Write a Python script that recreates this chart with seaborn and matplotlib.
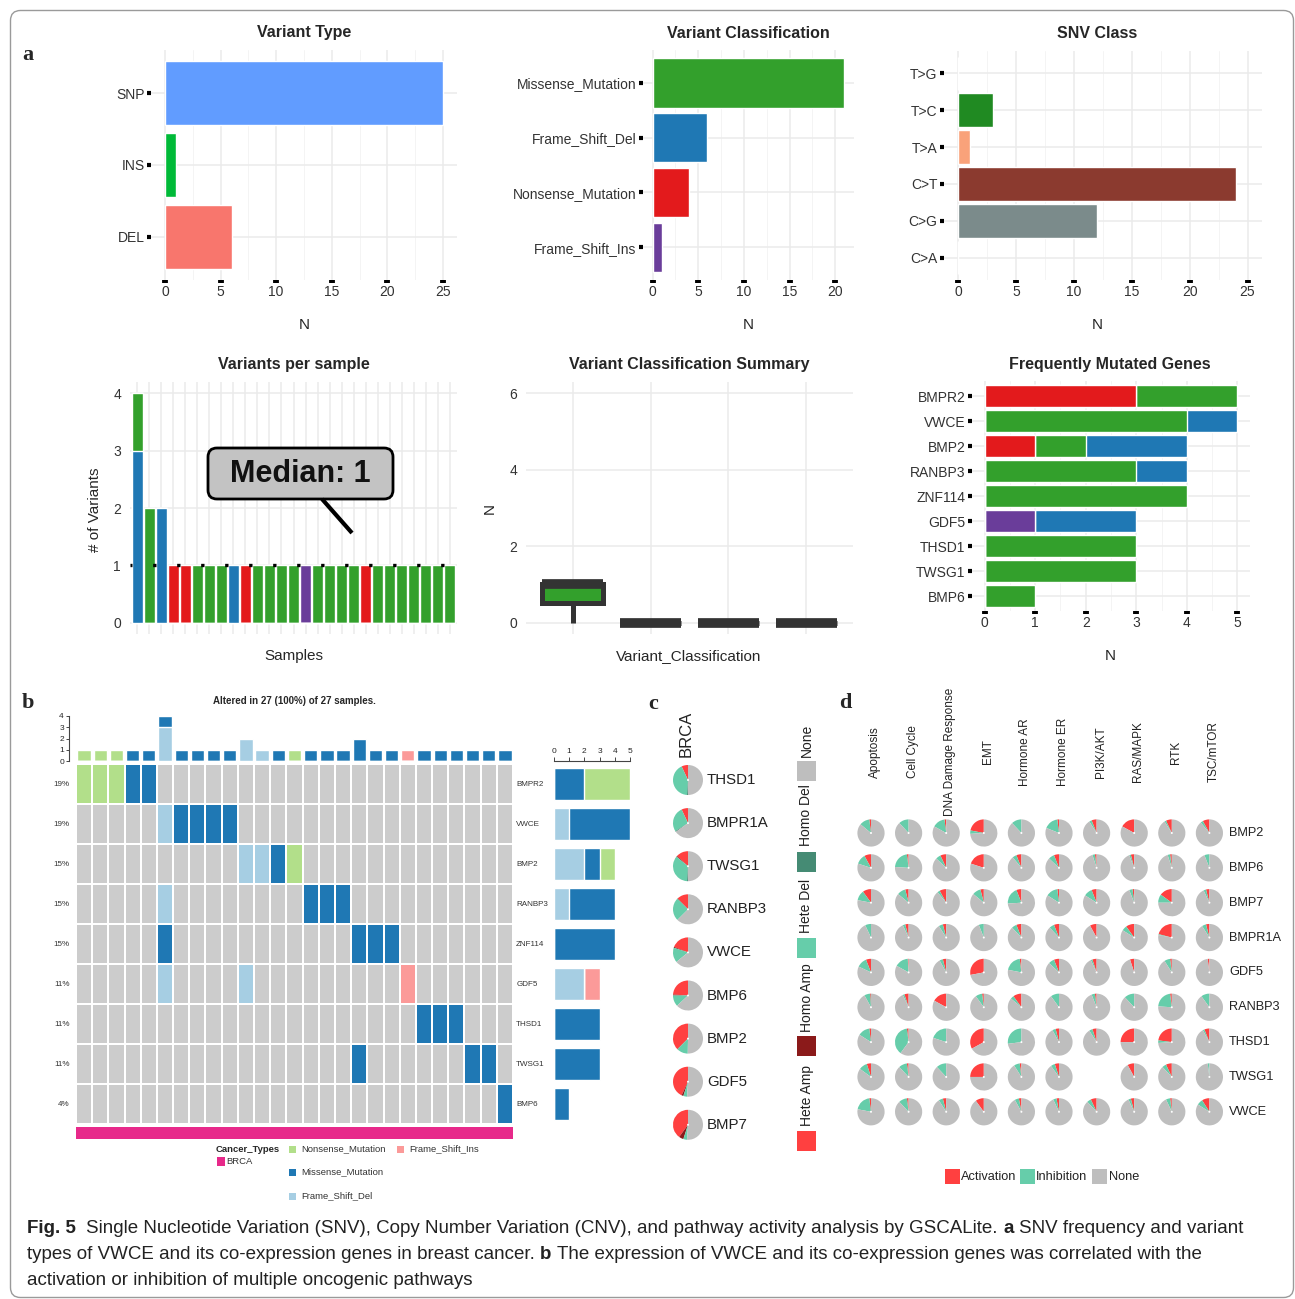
import numpy as np
import pandas as pd
import matplotlib
matplotlib.use("Agg")
import matplotlib.pyplot as plt
from matplotlib import font_manager
from matplotlib.colors import ListedColormap
from matplotlib.patches import Wedge, Circle, Rectangle, FancyBboxPatch
from matplotlib.lines import Line2D
import seaborn as sns

# ---------------- data ----------------
vt_labels = ["SNP", "INS", "DEL"]
vt_counts = [25, 1, 6]
vt_colors = ["#619CFF", "#00BA38", "#F8766D"]

vc_labels = ["Missense_Mutation", "Frame_Shift_Del", "Nonsense_Mutation", "Frame_Shift_Ins"]
vc_counts = [21, 6, 4, 1]
vc_colors = ["#33A02C", "#1F78B4", "#E31A1C", "#6A3D9A"]

snv_labels = ["T>G", "T>C", "T>A", "C>T", "C>G", "C>A"]
snv_counts = [0, 3, 1, 24, 12, 0]
snv_colors = ["#4B6C8B", "#208A22", "#F9A27A", "#8B3A2F", "#7B8B8B", "#C9A33A"]

# variants per sample (27 samples, sorted by burden)
sample_fs_del   = [3, 0, 2, 0, 0, 0, 0, 0, 1, 0, 0, 0, 0, 0, 0, 0, 0, 0, 0, 0, 0, 0, 0, 0, 0, 0, 0]
sample_missense = [1, 2, 0, 0, 0, 1, 1, 1, 0, 0, 1, 1, 1, 1, 0, 1, 1, 1, 1, 0, 1, 1, 1, 1, 1, 1, 1]
sample_nonsense = [0, 0, 0, 1, 1, 0, 0, 0, 0, 1, 0, 0, 0, 0, 0, 0, 0, 0, 0, 1, 0, 0, 0, 0, 0, 0, 0]
sample_fs_ins   = [0, 0, 0, 0, 0, 0, 0, 0, 0, 0, 0, 0, 0, 0, 1, 0, 0, 0, 0, 0, 0, 0, 0, 0, 0, 0, 0]

# frequently mutated genes
fm_genes = ["BMPR2", "VWCE", "BMP2", "RANBP3", "ZNF114", "GDF5", "THSD1", "TWSG1", "BMP6"]
fm_nonsense = [3, 0, 1, 0, 0, 0, 0, 0, 0]
fm_fs_ins   = [0, 0, 0, 0, 0, 1, 0, 0, 0]
fm_missense = [2, 4, 1, 3, 4, 0, 3, 3, 1]
fm_fs_del   = [0, 1, 2, 1, 0, 2, 0, 0, 0]

# oncoplot: sample column (1-based) -> variant code
onco_genes = ["BMPR2", "VWCE", "BMP2", "RANBP3", "ZNF114", "GDF5", "THSD1", "TWSG1", "BMP6"]
onco_hits = {
    "BMPR2":  {1: "N", 2: "N", 3: "N", 4: "M", 5: "M"},
    "VWCE":   {6: "D", 7: "M", 8: "M", 9: "M", 10: "M"},
    "BMP2":   {11: "D", 12: "D", 13: "M", 14: "N"},
    "RANBP3": {6: "D", 15: "M", 16: "M", 17: "M"},
    "ZNF114": {6: "M", 18: "M", 19: "M", 20: "M"},
    "GDF5":   {6: "D", 11: "D", 21: "I"},
    "THSD1":  {22: "M", 23: "M", 24: "M"},
    "TWSG1":  {18: "M", 25: "M", 26: "M"},
    "BMP6":   {27: "M"},
}
onco_cancer = ["BRCA"] * 27

# CNV (percent of samples)
cnv_genes    = ["THSD1", "BMPR1A", "TWSG1", "RANBP3", "VWCE", "BMP6", "BMP2", "GDF5", "BMP7"]
cnv_hete_amp = [7, 7, 13, 12, 19, 24, 37, 43, 40]
cnv_homo_amp = [0, 0, 1, 0.5, 1, 1, 0.5, 2, 5]
cnv_hete_del = [42, 27, 35, 25, 16, 12, 12, 4, 4]
cnv_homo_del = [1, 1, 1, 0, 0, 0, 0, 0, 0]
cnv_none     = [50, 65, 50, 62.5, 64, 63, 50, 51, 51]

# pathway activity (percent activation / inhibition)
pw_names = ["Apoptosis", "Cell Cycle", "DNA Damage Response", "EMT", "Hormone AR",
            "Hormone ER", "PI3K/AKT", "RAS/MAPK", "RTK", "TSC/mTOR"]
pw_genes = ["BMP2", "BMP6", "BMP7", "BMPR1A", "GDF5", "RANBP3", "THSD1", "TWSG1", "VWCE"]
pw_act = [
    [2, 0, 2, 22, 0, 2, 6, 17, 7, 8],
    [8, 2, 7, 20, 6, 6, 2, 4, 2, 0],
    [10, 4, 8, 4, 6, 2, 6, 2, 15, 4],
    [0, 4, 4, 0, 6, 6, 8, 10, 21, 4],
    [6, 1, 4, 28, 2, 6, 5, 5, 2, 2],
    [1, 5, 17, 2, 10, 0, 2, 0, 2, 0],
    [2, 2, 0, 33, 0, 4, 5, 25, 23, 6],
    [5, 2, 0, 25, 2, 5, np.nan, 8, 7, 0],
    [2, 2, 4, 10, 3, 3, 7, 4, 2, 9],
]
pw_inh = [
    [12, 12, 15, 4, 12, 17, 3, 0, 2, 3],
    [12, 22, 6, 0, 5, 7, 3, 2, 3, 6],
    [12, 10, 3, 10, 20, 14, 10, 4, 10, 3],
    [7, 3, 5, 6, 6, 6, 0, 6, 1, 5],
    [12, 16, 4, 0, 20, 7, 2, 0, 7, 0],
    [7, 2, 0, 8, 4, 10, 4, 12, 22, 10],
    [14, 38, 20, 0, 27, 4, 4, 0, 3, 2],
    [10, 10, 12, 0, 7, 5, np.nan, 0, 5, 2],
    [20, 10, 5, 0, 5, 4, 5, 3, 5, 7],
]

# ---------------- style ----------------
W, H = 1295, 1299
sns.set_theme(style="white")
plt.rcParams["font.family"] = ["Liberation Sans", "DejaVu Sans"]
plt.rcParams["axes.unicode_minus"] = False

fig = plt.figure(figsize=(W / 100, H / 100), dpi=100)
fig.patch.set_facecolor("white")

GRID = "#EBEBEB"
TICKTXT = "#333333"


def add_ax(x0, y0, x1, y1, **kw):
    return fig.add_axes([x0 / W, 1 - y1 / H, (x1 - x0) / W, (y1 - y0) / H], **kw)


def ftext(x, y, s, **kw):
    kw.setdefault("ha", "center")
    kw.setdefault("va", "center")
    return fig.text(x / W, 1 - y / H, s, **kw)


def gg_bar_axes(ax, xticks, xlim, n_cat):
    for sp in ax.spines.values():
        sp.set_visible(False)
    ax.set_xlim(*xlim)
    ax.set_ylim(n_cat - 0.4, -0.6)
    ax.set_xticks(xticks)
    minor = [(a + b) / 2 for a, b in zip(xticks[:-1], xticks[1:])]
    ax.set_xticks(minor, minor=True)
    ax.grid(True, which="major", color=GRID, lw=1.1)
    ax.grid(True, which="minor", axis="x", color="#F4F4F4", lw=0.7)
    ax.set_axisbelow(True)
    ax.tick_params(axis="x", which="major", bottom=True, length=2.2, width=4.2,
                   color="black", labelsize=10, labelcolor=TICKTXT, pad=1.5)
    ax.tick_params(axis="x", which="minor", bottom=False, length=0)
    ax.tick_params(axis="y", left=True, length=2.6, width=3.0, color="black",
                   labelsize=10, labelcolor=TICKTXT, pad=2)
    ax.set_xlabel("")
    ax.set_ylabel("")


def simple_bar(ax, labels, counts, colors):
    df = pd.DataFrame({"lab": labels, "n": counts})
    sns.barplot(data=df, x="n", y="lab", hue="lab", order=labels, hue_order=labels,
                palette=dict(zip(labels, colors)), orient="h", width=0.9,
                saturation=1, legend=False, errorbar=None, ax=ax)


# ---------------- panel a, row 1 ----------------
ax = add_ax(151, 50, 457, 280)
simple_bar(ax, vt_labels, vt_counts, vt_colors)
gg_bar_axes(ax, [0, 5, 10, 15, 20, 25], (-1.25, 26.25), len(vt_labels))
ftext(304, 33, "Variant Type", fontsize=11.5, fontweight="bold")
ftext(304, 325, "N", fontsize=11)

ax = add_ax(643, 50, 854, 280)
simple_bar(ax, vc_labels, vc_counts, vc_colors)
gg_bar_axes(ax, [0, 5, 10, 15, 20], (-1.05, 22.05), len(vc_labels))
ftext(748, 33, "Variant Classification", fontsize=11.5, fontweight="bold")
ftext(748, 325, "N", fontsize=11)

ax = add_ax(944, 51, 1262, 280)
simple_bar(ax, snv_labels, snv_counts, snv_colors)
gg_bar_axes(ax, [0, 5, 10, 15, 20, 25], (-1.25, 26.25), len(snv_labels))
ftext(1097, 33, "SNV Class", fontsize=11.5, fontweight="bold")
ftext(1097, 325, "N", fontsize=11)

# ---------------- panel a, row 2 ----------------
# variants per sample (stacked)
ax = add_ax(130, 382, 457, 634)
samples = [f"S{i + 1}" for i in range(len(sample_missense))]
ps_stack = [(sample_fs_del, vc_colors[1]), (sample_missense, vc_colors[0]),
            (sample_nonsense, vc_colors[2]), (sample_fs_ins, vc_colors[3])]
ps_cum = np.cumsum([s for s, _ in ps_stack], axis=0)
for lvl in range(len(ps_stack) - 1, -1, -1):
    sns.barplot(x=samples, y=ps_cum[lvl], order=samples, color=ps_stack[lvl][1],
                width=0.92, saturation=1, errorbar=None, ax=ax)
for sp in ax.spines.values():
    sp.set_visible(False)
ax.set_xlim(-0.6, len(samples) - 0.4)
ax.set_ylim(-0.2, 4.2)
ax.set_xticks(range(len(samples)))
ax.set_xticklabels([])
ax.set_yticks([0, 1, 2, 3, 4])
ax.grid(True, color=GRID, lw=1.1)
ax.set_axisbelow(True)
ax.tick_params(axis="both", length=0, labelsize=10, labelcolor=TICKTXT, pad=6.5)
ax.set_xlabel("")
ax.set_ylabel("")
totals = ps_cum[-1]
med = float(np.median(totals))
ax.axhline(med, color="black", lw=2.4, linestyle=(0.4, (1, 6.2)), zorder=5)
ftext(294, 364, "Variants per sample", fontsize=11.5, fontweight="bold")
ftext(294, 656, "Samples", fontsize=11)
ftext(95, 510, "# of Variants", fontsize=11, rotation=90)

# variant classification summary (box plot per sample)
ax = add_ax(526, 382, 853, 634)
rows = []
for name, arr in zip(vc_labels, [sample_missense, sample_fs_del, sample_nonsense, sample_fs_ins]):
    for v in arr:
        rows.append((name, v))
dfb = pd.DataFrame(rows, columns=["cls", "n"])
sns.boxplot(data=dfb, x="cls", y="n", order=vc_labels, hue="cls", hue_order=vc_labels,
            palette=dict(zip(vc_labels, vc_colors)), width=0.78, linewidth=3.6,
            linecolor="#333333", showfliers=False, showcaps=False, saturation=1,
            medianprops=dict(linewidth=7.0, color="#333333", solid_capstyle="butt"),
            legend=False, ax=ax)
for sp in ax.spines.values():
    sp.set_visible(False)
ax.set_ylim(-0.3, 6.3)
ax.set_xlim(-0.6, len(vc_labels) - 0.4)
ax.set_yticks([0, 2, 4, 6])
ax.set_xticks(range(len(vc_labels)))
ax.set_xticklabels([])
ax.grid(True, color=GRID, lw=1.1)
ax.set_axisbelow(True)
ax.tick_params(axis="both", length=0, labelsize=10, labelcolor=TICKTXT, pad=6.5)
ax.set_xlabel("")
ax.set_ylabel("")
ftext(689, 364, "Variant Classification Summary", fontsize=11.5, fontweight="bold")
ftext(689, 656, "Variant_Classification", fontsize=11)
ftext(490, 508, "N", fontsize=11, rotation=90)

# frequently mutated genes (stacked)
ax = add_ax(972, 381, 1250, 611)
fm_stack = [(fm_nonsense, vc_colors[2]), (fm_fs_ins, vc_colors[3]),
            (fm_missense, vc_colors[0]), (fm_fs_del, vc_colors[1])]
fm_cum = np.cumsum([s for s, _ in fm_stack], axis=0)
for lvl in range(len(fm_stack) - 1, -1, -1):
    sns.barplot(x=fm_cum[lvl], y=fm_genes, order=fm_genes, orient="h",
                color=fm_stack[lvl][1], width=0.87, saturation=1, errorbar=None, ax=ax)
gg_bar_axes(ax, [0, 1, 2, 3, 4, 5], (-0.25, 5.25), len(fm_genes))
ftext(1110, 364, "Frequently Mutated Genes", fontsize=11.5, fontweight="bold")
ftext(1110, 656, "N", fontsize=11)

# ---------------- panel b: oncoplot ----------------
ONC = {"none": "#CCCCCC", "N": "#B2DF8A", "M": "#1F78B4", "D": "#A6CEE3", "I": "#FB9A99"}
code_of = {"N": 1, "M": 2, "D": 3, "I": 4}
n_samp = len(onco_cancer)
mat = np.zeros((len(onco_genes), n_samp), dtype=int)
for i, g in enumerate(onco_genes):
    for col, c in onco_hits[g].items():
        mat[i, col - 1] = code_of[c]

n_alt = int((mat > 0).any(axis=0).sum())
ftext(294, 701, f"Altered in {n_alt} ({100 * n_alt / n_samp:.0f}%) of {n_samp} samples.",
      fontsize=7, fontweight="bold")

# top bar: variants per sample
axt = add_ax(76, 716, 513, 761)
cols = [str(i) for i in range(n_samp)]
t_layers = [((mat == 3).sum(0), ONC["D"]), ((mat == 2).sum(0), ONC["M"]),
            ((mat == 1).sum(0), ONC["N"]), ((mat == 4).sum(0), ONC["I"])]
t_cum = np.cumsum([l for l, _ in t_layers], axis=0)
for lvl in range(len(t_layers) - 1, -1, -1):
    sns.barplot(x=cols, y=t_cum[lvl], order=cols, color=t_layers[lvl][1], width=0.82,
                saturation=1, errorbar=None, ax=axt)
axt.set_xlim(-0.5, n_samp - 0.5)
axt.set_ylim(0, 4)
axt.set_facecolor("none")
for k, sp in axt.spines.items():
    sp.set_visible(k == "left")
axt.spines["left"].set_position(("outward", 5))
axt.spines["left"].set_color("#444444")
axt.spines["left"].set_linewidth(0.8)
axt.set_yticks([0, 1, 2, 3, 4])
axt.set_xticks([])
axt.tick_params(axis="y", left=True, length=2.5, width=0.7, color="#444444",
                labelsize=6, pad=1.2)
axt.set_xlabel("")
axt.set_ylabel("")

# main matrix
axm = add_ax(76, 764, 513, 1124)
onco_cmap = ListedColormap([ONC["none"], ONC["N"], ONC["M"], ONC["D"], ONC["I"]])
sns.heatmap(mat, cmap=onco_cmap, vmin=-0.5, vmax=4.5, cbar=False, linewidths=1.1,
            linecolor="white", xticklabels=False, yticklabels=False, ax=axm)
for i, g in enumerate(onco_genes):
    pct = 100 * (mat[i] > 0).sum() / n_samp
    axm.text(-0.4, i + 0.5, f"{pct:.0f}%", ha="right", va="center", fontsize=5.8,
             color="#333333")
    axm.text(n_samp + 0.2, i + 0.5, g, ha="left", va="center", fontsize=5.8,
             color="#333333")

# cancer-type annotation strip
axa = add_ax(76, 1127, 513, 1139)
ct_levels = sorted(set(onco_cancer))
ct_codes = np.array([[ct_levels.index(c) for c in onco_cancer]])
sns.heatmap(ct_codes, cmap=ListedColormap(["#E7298A"]), cbar=False,
            xticklabels=False, yticklabels=False, ax=axa)

# right bar: variants per gene
axr = add_ax(554, 764, 630, 1124)
g_layers = [((mat == 3).sum(1), ONC["D"]), ((mat == 2).sum(1), ONC["M"]),
            ((mat == 1).sum(1), ONC["N"]), ((mat == 4).sum(1), ONC["I"])]
g_cum = np.cumsum([l for l, _ in g_layers], axis=0)
for lvl in range(len(g_layers) - 1, -1, -1):
    sns.barplot(x=g_cum[lvl], y=onco_genes, order=onco_genes, orient="h",
                color=g_layers[lvl][1], width=0.8, saturation=1, errorbar=None, ax=axr)
axr.set_xlim(0, 5)
axr.set_ylim(len(onco_genes) - 0.5, -0.5)
axr.set_facecolor("none")
for k, sp in axr.spines.items():
    sp.set_visible(k == "top")
axr.spines["top"].set_position(("outward", 2))
axr.spines["top"].set_color("#444444")
axr.spines["top"].set_linewidth(0.8)
axr.xaxis.tick_top()
axr.set_xticks([0, 1, 2, 3, 4, 5])
axr.set_yticks([])
axr.tick_params(axis="x", top=True, bottom=False, length=3, width=0.7, color="#444444",
                labelsize=6, pad=1.2)
axr.set_xlabel("")
axr.set_ylabel("")

# ---------------- overlay (pixel coordinates) ----------------
ov = fig.add_axes([0, 0, 1, 1], zorder=5)
ov.set_xlim(0, W)
ov.set_ylim(0, H)
ov.axis("off")


def Y(y):
    return H - y


# median call-out
ov.add_patch(FancyBboxPatch((208, Y(499)), 185, 51, boxstyle="round,pad=0,rounding_size=9",
                            fc="#C3C3C3", ec="black", lw=2))
ov.text(300.5, Y(474), f"Median: {med:g}", ha="center", va="center", fontsize=22,
        fontweight="bold", color="#111111")
ov.add_line(Line2D([322, 352], [Y(499), Y(533)], color="black", lw=3, solid_capstyle="butt"))

# oncoplot legend
ov.text(216, Y(1149), "Cancer_Types", ha="left", va="center", fontsize=6.8, fontweight="bold")
ov.add_patch(Rectangle((216.5, Y(1165.5)), 8.5, 9, fc="#E7298A", ec="none"))
ov.text(226.5, Y(1161.5), "BRCA", ha="left", va="center", fontsize=6.8, color="#333333")
for (x, y, key, lab) in [(289, 1149, "N", "Nonsense_Mutation"),
                         (289, 1172, "M", "Missense_Mutation"),
                         (289, 1196, "D", "Frame_Shift_Del"),
                         (396.5, 1149, "I", "Frame_Shift_Ins")]:
    ov.add_patch(Rectangle((x, Y(y + 3.5)), 7, 7, fc=ONC[key], ec="none"))
    ov.text(x + 12.5, Y(y), lab, ha="left", va="center", fontsize=6.8, color="#333333")

# panel c: CNV pies
CNV_COL = ["#FF4040", "#8B1A1A", "#66CDAA", "#458B74", "#BEBEBE"]


def pie(cx, cy, parts, colors, r):
    tot = float(np.nansum(parts))
    start = 90.0
    for f, c in zip(parts, colors):
        if not f or f <= 0:
            continue
        sweep = 360.0 * f / tot
        ov.add_patch(Wedge((cx, Y(cy)), r, start, start + sweep, fc=c, ec="none", lw=0))
        start += sweep
    ov.add_patch(Circle((cx, Y(cy)), 1.0, fc="white", ec="none"))


ov.text(686, Y(734), "BRCA", rotation=90, ha="center", va="center", fontsize=12,
        color="#222222")
for i, g in enumerate(cnv_genes):
    cy = 780 + i * 43.1
    pie(688, cy, [cnv_hete_amp[i], cnv_homo_amp[i], cnv_hete_del[i], cnv_homo_del[i],
                  cnv_none[i]], CNV_COL, 15)
    ov.text(707, Y(cy), g, ha="left", va="center", fontsize=10.8, color="#222222")

for lab, col, ytxt, ysq in [("None", CNV_COL[4], 740, 761),
                            ("Homo Del", CNV_COL[3], 815, 852),
                            ("Hete Del", CNV_COL[2], 906, 938),
                            ("Homo Amp", CNV_COL[1], 998, 1036),
                            ("Hete Amp", CNV_COL[0], 1095, 1131)]:
    ov.add_patch(Rectangle((797, Y(ysq + 19.5)), 19, 19.5, fc=col, ec="none"))
    ov.text(806.5, Y(ytxt), lab, rotation=90, ha="center", va="center", fontsize=10,
            color="#222222")

# panel d: pathway pies
PW_COL = ["#FF4040", "#66CDAA", "#BEBEBE"]
for j, name in enumerate(pw_names):
    ov.text(871 + j * 37.6 + 4, Y(752), name, rotation=90, ha="center", va="center",
            fontsize=8.5, color="#222222")
for i, g in enumerate(pw_genes):
    cy = 833 + i * 34.85
    for j in range(len(pw_names)):
        a, b = pw_act[i][j], pw_inh[i][j]
        if np.isnan(a) or np.isnan(b):
            continue
        pie(871 + j * 37.6, cy, [a, b, 100 - a - b], PW_COL, 13.6)
    ov.text(1229, Y(cy), g, ha="left", va="center", fontsize=9.2, color="#222222")

for x, col, lab in [(944.5, PW_COL[0], "Activation"), (1019.5, PW_COL[1], "Inhibition"),
                    (1092, PW_COL[2], "None")]:
    ov.add_patch(Rectangle((x, Y(1183.5)), 15, 14.5, fc=col, ec="none"))
    ov.text(x + 16.5, Y(1176.5), lab, ha="left", va="center", fontsize=9.2, color="#222222")

# panel letters
for x, y, s in [(28, 55, "a"), (28, 703, "b"), (653, 704, "c"), (845, 703, "d")]:
    ov.text(x, Y(y), s, ha="center", va="center", fontsize=16, fontweight="bold",
            family="Liberation Serif")

# outer frame
ov.add_patch(FancyBboxPatch((10.5, Y(1297.5)), 1283, 1287, boxstyle="round,pad=0,rounding_size=10",
                            fc="none", ec="#9A9A9A", lw=1.0, clip_on=False))

# ---------------- caption ----------------
avail = {f.name for f in font_manager.fontManager.ttflist}
cap_family = "Liberation Sans Narrow" if "Liberation Sans Narrow" in avail else "Liberation Sans"
renderer = fig.canvas.get_renderer()


def text_w(s, size, bold):
    t = fig.text(0, 0, s, fontsize=size, fontweight="bold" if bold else "normal",
                 family=cap_family)
    w = t.get_window_extent(renderer=renderer).width
    t.remove()
    return w


cap_lines = [
    [("Fig. 5", True, 2), ("Single Nucleotide Variation (SNV), Copy Number Variation (CNV), "
                           "and pathway activity analysis by GSCALite.", False, 1),
     ("a", True, 1), ("SNV frequency and variant", False, 0)],
    [("types of VWCE and its co-expression genes in breast cancer.", False, 1), ("b", True, 1),
     ("The expression of VWCE and its co-expression genes was correlated with the", False, 0)],
    [("activation or inhibition of multiple oncogenic pathways", False, 0)],
]


def line_width(runs, size):
    sp = text_w("n n", size, False) - text_w("nn", size, False)
    return sum(text_w(s, size, b) + g * sp for s, b, g in runs)


base = 13.0
cap_size = base * 1214.0 / line_width(cap_lines[0], base)
space_w = text_w("n n", cap_size, False) - text_w("nn", cap_size, False)
for runs, yb in zip(cap_lines, [1233, 1259, 1285]):
    x = 27
    for s, b, g in runs:
        fig.text(x / W, 1 - yb / H, s, fontsize=cap_size, fontweight="bold" if b else "normal",
                 family=cap_family, ha="left", va="baseline", color="#222222")
        x += text_w(s, cap_size, b) + g * space_w

fig.savefig("out.png", dpi=100, facecolor="white")
